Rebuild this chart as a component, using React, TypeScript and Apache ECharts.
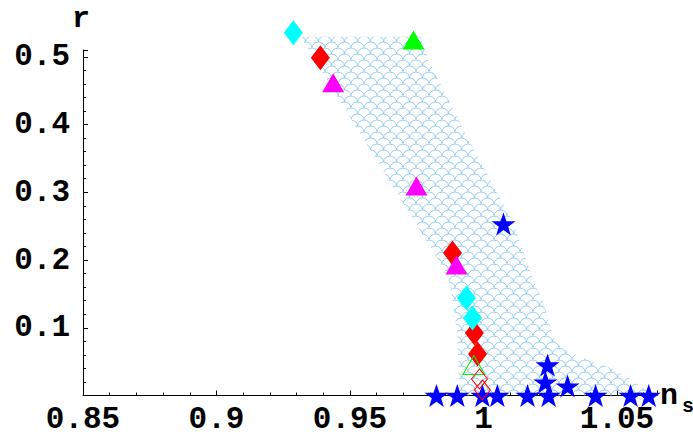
import React, { useEffect, useRef } from 'react';
import * as echarts from 'echarts';

// axis tick values
const xTickValues = [0.85, 0.9, 0.95, 1, 1.05];
const yTickValues = [0.1, 0.2, 0.3, 0.4, 0.5];

// allowed region (outline, going clockwise)
const regionNs = [0.9314, 0.9764, 0.979, 0.9925, 1.0026, 1.0112, 1.0187, 1.0225, 1.0262, 1.0289, 1.0364, 1.0465, 1.054, 1.0637, 0.9914, 0.9906, 0.9903, 0.9887, 0.9865];
const regionR = [0.5295, 0.5295, 0.4985, 0.3922, 0.3183, 0.2548, 0.1706, 0.1366, 0.0864, 0.0717, 0.0569, 0.0421, 0.0273, 0.0, 0.0, 0.0377, 0.0864, 0.1366, 0.178];

// model points
const cyanNs = [0.9288, 0.9936, 0.9959];
const cyanR = [0.5354, 0.144, 0.1145];
const redNs = [0.9389, 0.9884, 0.9966, 0.9978];
const redR = [0.4985, 0.2105, 0.0923, 0.0613];
const magentaNs = [0.9437, 0.9749, 0.9899];
const magentaR = [0.4616, 0.3094, 0.1928];
const greenNs = [0.9738];
const greenR = [0.5247];
const starNs = [1.0075, 0.9824, 0.9902, 0.9996, 1.0052, 1.0165, 1.0244, 1.042, 1.0551, 1.0619, 1.024, 1.0232, 1.0315];
const starR = [0.2533, 0, 0, 0, 0, 0, 0, 0, 0, 0, 0.0451, 0.0199, 0.014];
const hollowGreenNs = [0.9964];
const hollowGreenR = [0.045];
const hollowRedNs = [0.9985, 0.9996];
const hollowRedR = [0.0244, 0.0081];

const zip = (a: number[], b: number[]) => a.map((v, i) => [v, b[i]]);

const STAR = 'path://M50,0 L61.8,35.1 L98.1,35.1 L68.8,56.7 L79.4,91 L50,70 L20.6,91 L31.2,56.7 L1.9,35.1 L38.2,35.1 Z';

const tileSvg =
  "<svg xmlns='http://www.w3.org/2000/svg' width='13' height='12'>" +
  "<g fill='none' stroke='#8fcbf2' stroke-width='1'>" +
  "<path d='M0 12 A6.5 6 0 0 1 13 12'/>" +
  "<path d='M-6.5 6 A6.5 6 0 0 1 6.5 6'/>" +
  "<path d='M6.5 6 A6.5 6 0 0 1 19.5 6'/>" +
  "<path d='M0 0 A6.5 6 0 0 1 13 0'/>" +
  '</g></svg>';
const tileUrl = 'data:image/svg+xml;utf8,' + encodeURIComponent(tileSvg);

const FONT = 'Liberation Mono';

const isTick = (v: number, list: number[]) => list.some((t) => Math.abs(t - v) < 1e-6);

export default function App() {
  const ref = useRef<HTMLDivElement>(null);
  useEffect(() => {
    if (!ref.current) return;
    const chart = echarts.init(ref.current, undefined, { renderer: 'svg' });
    const regionPts = zip(regionNs, regionR);
    const option: any = {
      animation: false,
      backgroundColor: '#fff',
      grid: { left: 83, top: 50, right: 36, bottom: 39.5 },
      xAxis: {
        type: 'value',
        min: 0.85,
        max: 1.065,
        interval: 0.05,
        axisLine: { lineStyle: { color: '#000', width: 1 } },
        axisTick: { inside: true, length: 5, lineStyle: { color: '#000' } },
        minorTick: { show: true, splitNumber: 5, length: 3, lineStyle: { color: '#000' } },
        splitLine: { show: false },
        axisLabel: {
          margin: 8,
          fontFamily: FONT,
          fontWeight: 'bold',
          fontSize: 31,
          color: '#000',
          formatter: (v: number) => (isTick(v, xTickValues) ? String(parseFloat(v.toFixed(2))) : ''),
        },
      },
      yAxis: {
        type: 'value',
        min: 0,
        max: 0.51,
        interval: 0.1,
        axisLine: { lineStyle: { color: '#000', width: 1 } },
        axisTick: { inside: true, length: 5, lineStyle: { color: '#000' } },
        minorTick: { show: true, splitNumber: 5, length: 3, lineStyle: { color: '#000' } },
        splitLine: { show: false },
        axisLabel: {
          margin: 13,
          fontFamily: FONT,
          fontWeight: 'bold',
          fontSize: 31,
          color: '#000',
          formatter: (v: number) => (isTick(v, yTickValues) ? v.toFixed(1) : ''),
        },
      },
      graphic: [
        { type: 'text', left: 72, top: 4, style: { text: 'r', font: `bold 30px "${FONT}"`, fill: '#000' } },
        { type: 'text', left: 660, top: 381, style: { text: 'n', font: `bold 30px "${FONT}"`, fill: '#000' } },
        { type: 'text', left: 682, top: 396, style: { text: 's', font: `bold 20px "${FONT}"`, fill: '#000' } },
      ],
      series: [
        {
          type: 'custom',
          clip: false,
          silent: true,
          data: [0],
          renderItem: (params: any, api: any) => ({
            type: 'polygon',
            shape: { points: regionPts.map((p) => api.coord(p)) },
            style: {
              fill: { image: tileUrl, repeat: 'repeat', imageWidth: 13, imageHeight: 12 },
              stroke: 'none',
            },
          }),
          z: 1,
        },
        {
          type: 'scatter', clip: false, data: zip(redNs, redR), symbol: 'diamond', symbolSize: [19, 25],
          itemStyle: { color: '#ff0000', opacity: 1 }, z: 2,
        },
        {
          type: 'scatter', clip: false, data: zip(cyanNs, cyanR), symbol: 'diamond', symbolSize: [19, 25],
          itemStyle: { color: '#00ffff', opacity: 1 }, z: 3,
        },
        {
          type: 'scatter', clip: false, data: zip(magentaNs, magentaR), symbol: 'triangle', symbolSize: [22, 19],
          itemStyle: { color: '#ff00ff', opacity: 1 }, z: 4,
        },
        {
          type: 'scatter', clip: false, data: zip(greenNs, greenR), symbol: 'triangle', symbolSize: [22, 19],
          itemStyle: { color: '#00ff00', opacity: 1 }, z: 4,
        },
        {
          type: 'scatter', clip: false, data: zip(starNs, starR), symbol: STAR, symbolSize: [24, 23],
          itemStyle: { color: '#0000ff', opacity: 1 }, z: 5,
        },
        {
          type: 'scatter', clip: false, data: zip(hollowGreenNs, hollowGreenR), symbol: 'triangle', symbolSize: [22, 19],
          itemStyle: { color: 'rgba(0,0,0,0)', borderColor: '#00ee00', borderWidth: 1, opacity: 1 }, z: 6,
        },
        {
          type: 'scatter', clip: false, data: zip(hollowRedNs, hollowRedR), symbol: 'diamond', symbolSize: [16, 20],
          itemStyle: { color: 'rgba(0,0,0,0)', borderColor: '#ff0000', borderWidth: 1, opacity: 1 }, z: 6,
        },
      ],
    };
    chart.setOption(option);
    return () => chart.dispose();
  }, []);
  return <div ref={ref} style={{ position: 'absolute', left: 0, top: 0, width: 693, height: 435 }} />;
}
